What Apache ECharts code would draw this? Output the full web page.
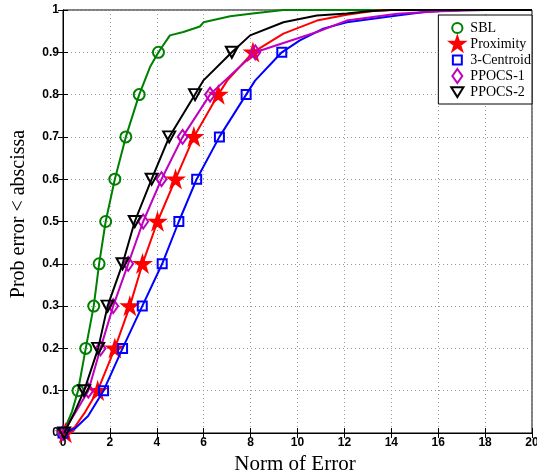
<!DOCTYPE html>
<html>
<head>
<meta charset="utf-8">
<script src="https://cdn.jsdelivr.net/npm/echarts@6/dist/echarts.min.js"></script>
<style>html,body{margin:0;padding:0;background:#fff;}#c{width:537px;height:474px;}</style>
</head>
<body>
<div id="c"></div>
<script>
const sbl = [[0,0],[0.38,0.05],[0.64,0.1],[0.97,0.2],[1.31,0.3],[1.54,0.4],[1.82,0.5],[2.21,0.6],[2.68,0.7],[3.25,0.8],[3.71,0.865],[4.07,0.9],[4.56,0.94],[5.13,0.948],[5.84,0.961],[5.99,0.971],[7.13,0.985],[7.99,0.991],[9.4,1.0],[20,1.0]];
const proximity = [[0.1,0],[0.5,0.014],[0.95,0.05],[1.48,0.1],[2.21,0.2],[2.85,0.3],[3.39,0.4],[4.03,0.5],[4.8,0.6],[5.58,0.7],[6.62,0.8],[7.0,0.833],[8.1,0.9],[9.4,0.944],[10.83,0.975],[12.1,0.989],[13.3,0.998],[14,1.0],[20,1.0]];
const centroid3 = [[0,0],[0.5,0.01],[1.07,0.04],[1.73,0.1],[2.54,0.2],[3.38,0.3],[4.23,0.4],[4.94,0.5],[5.7,0.6],[6.67,0.7],[7.81,0.8],[8.19,0.833],[9.33,0.9],[10.1,0.928],[11.1,0.956],[12.1,0.971],[14.25,0.987],[15.5,0.996],[17,1.0],[20,1.0]];
const ppocs1 = [[0,0],[0.55,0.05],[1.08,0.1],[1.6,0.2],[2.14,0.3],[2.78,0.4],[3.42,0.5],[4.2,0.6],[5.1,0.7],[6.27,0.8],[6.9,0.833],[8.2,0.9],[9.4,0.922],[10.83,0.948],[12.1,0.975],[14.25,0.991],[16.1,0.997],[18,1.0],[20,1.0]];
const ppocs2 = [[0.05,0],[0.5,0.05],[0.9,0.1],[1.5,0.2],[1.9,0.3],[2.54,0.4],[3.06,0.5],[3.78,0.6],[4.53,0.7],[5.63,0.8],[5.98,0.833],[7.2,0.9],[7.98,0.94],[9.4,0.971],[10.83,0.987],[12.1,0.992],[13,0.997],[14,1.0],[20,1.0]];
const markerLevels = [0,0.1,0.2,0.3,0.4,0.5,0.6,0.7,0.8,0.9];
const seriesNames = ['SBL','Proximity','3-Centroid','PPOCS-1','PPOCS-2'];
const xTicks = [0,2,4,6,8,10,12,14,16,18,20];

const STAR = 'path://M50,0 L61.2,34.5 L97.6,34.5 L68.2,55.9 L79.4,90.5 L50,69.1 L20.6,90.5 L31.8,55.9 L2.4,34.5 L38.8,34.5 Z';
const TRI_DOWN = 'path://M0,0 L100,0 L50,88 Z';
// legend icons drawn inside a padded 100x100 box so each keeps its own size
const PAD = 'M0,0 L0.01,0 M100,100 L99.99,100 ';
const L_CIRCLE = 'path://' + PAD + 'M50,18 A32,32 0 1 1 49.9,18 Z';
const L_STAR = 'path://' + PAD + 'M50,3 L61,36 L96,36 L68,57 L79,91 L50,70 L21,91 L32,57 L4,36 L39,36 Z';
const L_RECT = 'path://' + PAD + 'M22,22 L78,22 L78,78 L22,78 Z';
const L_DIAMOND = 'path://' + PAD + 'M50,6 L81,50 L50,94 L19,50 Z';
const L_TRI = 'path://' + PAD + 'M12,20 L88,20 L50,82 Z';
const styles = [
  {color:'#008000', symbol:'circle', size:[11,11], fill:'transparent', icon:L_CIRCLE},
  {color:'#ff0000', symbol:STAR, size:[15,15], fill:'#ff0000', icon:L_STAR},
  {color:'#0000ff', symbol:'rect', size:[9,9], fill:'transparent', icon:L_RECT},
  {color:'#bf00bf', symbol:'diamond', size:[10,14], fill:'transparent', icon:L_DIAMOND},
  {color:'#000000', symbol:TRI_DOWN, size:[12,11], fill:'transparent', icon:L_TRI}
];
const datasets = [sbl, proximity, centroid3, ppocs1, ppocs2];

function isMarker(p){ return markerLevels.some(m => Math.abs(m - p) < 1e-9); }

const series = datasets.map((d, i) => ({
  name: seriesNames[i],
  type: 'line',
  data: d,
  showSymbol: true,
  showAllSymbol: true,
  symbol: styles[i].symbol,
  symbolKeepAspect: false,
  symbolSize: (v) => isMarker(v[1]) ? styles[i].size : 0,
  lineStyle: {color: styles[i].color, width: 2},
  itemStyle: {color: styles[i].fill, borderColor: styles[i].color, borderWidth: 2},
  emphasis: {disabled: true},
  animation: false,
  clip: true,
  z: 2 + i
}));

const serif = 'Liberation Serif, Times New Roman, serif';
const sans = 'Liberation Sans, Arial, sans-serif';
const chart = echarts.init(document.getElementById('c'), null, {renderer:'canvas'});
chart.setOption({
  animation: false,
  backgroundColor: '#fff',
  grid: {left: 63, right: 5, top: 10, bottom: 41, show: true, borderColor: '#000', borderWidth: 1,
    backgroundColor: 'transparent', containLabel: false, outerBoundsMode: 'none'},
  legend: {
    right: 5, top: 15, orient: 'vertical',
    backgroundColor: '#fff', borderColor: '#000', borderWidth: 1,
    padding: [4, 1, 3, 10], itemGap: -2, itemWidth: 16, itemHeight: 16,
    textStyle: {fontFamily: serif, fontSize: 14, color: '#000', lineHeight: 14},
    data: seriesNames.map((n, i) => ({
      name: n,
      icon: styles[i].icon,
      itemStyle: {color: styles[i].fill, borderColor: styles[i].color, borderWidth: 2}
    })),
    selectedMode: false
  },
  xAxis: [{
    type: 'value', min: 0, max: 20, interval: 2,
    name: 'Norm of Error', nameLocation: 'middle', nameGap: 18,
    nameTextStyle: {fontFamily: serif, fontSize: 21, color: '#000', padding: [0, 5, 0, 0]},
    axisLine: {show: true, lineStyle: {color: '#000', width: 1}},
    axisTick: {inside: true, length: 5, lineStyle: {color: '#000'}},
    axisLabel: {margin: 4, fontFamily: sans, fontWeight: 'bold', fontSize: 12, color: '#000',
      formatter: (v) => xTicks.includes(v) ? String(v) : ''},
    splitLine: {show: true, lineStyle: {color: '#999', type: [1, 3], width: 1}}
  }, {
    type: 'value', min: 0, max: 20, interval: 2, position: 'top',
    axisLine: {show: true, lineStyle: {color: '#000'}},
    axisTick: {inside: true, length: 5, lineStyle: {color: '#000'}},
    axisLabel: {show: false}, splitLine: {show: false}
  }],
  yAxis: [{
    type: 'value', min: 0, max: 1, interval: 0.1,
    name: 'Prob error < abscissa', nameLocation: 'middle', nameGap: 34,
    nameTextStyle: {fontFamily: serif, fontSize: 20, color: '#000', padding: [0, 0, 0, 15]},
    axisLine: {show: true, lineStyle: {color: '#000', width: 1}},
    axisTick: {inside: true, length: 5, lineStyle: {color: '#000'}},
    axisLabel: {margin: 4, fontFamily: sans, fontWeight: 'bold', fontSize: 12, color: '#000'},
    splitLine: {show: true, lineStyle: {color: '#999', type: [1, 3], width: 1}}
  }, {
    type: 'value', min: 0, max: 1, interval: 0.1, position: 'right',
    axisLine: {show: true, lineStyle: {color: '#000'}},
    axisTick: {inside: true, length: 5, lineStyle: {color: '#000'}},
    axisLabel: {show: false}, splitLine: {show: false}
  }],
  series: series
});
</script>
</body>
</html>
